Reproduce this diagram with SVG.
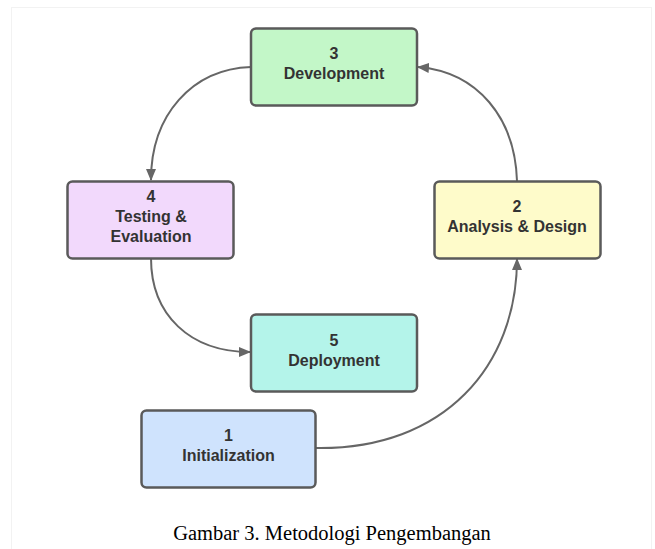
<svg xmlns="http://www.w3.org/2000/svg" width="655" height="549" viewBox="0 0 655 549">
<style>
.box{stroke:#5a5a5a;stroke-width:2.5}
.lbl{font-family:"Liberation Sans",Arial,sans-serif;font-weight:bold;font-size:16px;fill:#333;text-anchor:middle}
.edge{fill:none;stroke:#666;stroke-width:2}
.cap{font-family:"Liberation Serif","Times New Roman",serif;font-size:20.5px;fill:#000;text-anchor:middle}
</style>
<defs>
<marker id="arr" viewBox="0 0 12 10" refX="11" refY="5" markerWidth="12" markerHeight="10" markerUnits="userSpaceOnUse" orient="auto">
<path d="M0,0 L12,5 L0,10 Z" fill="#666"/>
</marker>
</defs>
<rect x="0" y="0" width="655" height="549" fill="#fff"/>
<rect x="11.5" y="7.5" width="640" height="545" fill="none" stroke="#f2f2f2" stroke-width="1"/>
<g id="connectors">
<path class="edge" d="M251,67 C192,69 151,115 151,180" marker-end="url(#arr)"/>
<path class="edge" d="M151,258 C151,315 190,352 250,352" marker-end="url(#arr)"/>
<path class="edge" d="M316,448 C445,450 517,365 517,259" marker-end="url(#arr)"/>
<path class="edge" d="M517,181 C515,118 478,72 418,67" marker-end="url(#arr)"/>
</g>
<g id="node3">
<rect class="box" x="251" y="28.5" width="166" height="77" rx="5" fill="#c3f7c8"/>
<text class="lbl" x="334" y="59">3</text>
<text class="lbl" x="334" y="79">Development</text>
</g>
<g id="node4">
<rect class="box" x="67.5" y="181.5" width="166" height="77" rx="5" fill="#f2d9fc"/>
<text class="lbl" x="151" y="202">4</text>
<text class="lbl" x="151" y="222">Testing &amp;</text>
<text class="lbl" x="151" y="242">Evaluation</text>
</g>
<g id="node2">
<rect class="box" x="434.5" y="181.5" width="166" height="77" rx="5" fill="#fefbca"/>
<text class="lbl" x="517" y="212">2</text>
<text class="lbl" x="517" y="232">Analysis &amp; Design</text>
</g>
<g id="node5">
<rect class="box" x="251" y="314.5" width="166" height="77" rx="5" fill="#b4f4ea"/>
<text class="lbl" x="334" y="346">5</text>
<text class="lbl" x="334" y="366">Deployment</text>
</g>
<g id="node1">
<rect class="box" x="141.5" y="410.5" width="174" height="77" rx="5" fill="#cfe3fd"/>
<text class="lbl" x="228.5" y="441">1</text>
<text class="lbl" x="228.5" y="461">Initialization</text>
</g>
<text class="cap" x="332" y="540">Gambar 3. Metodologi Pengembangan</text>
</svg>
